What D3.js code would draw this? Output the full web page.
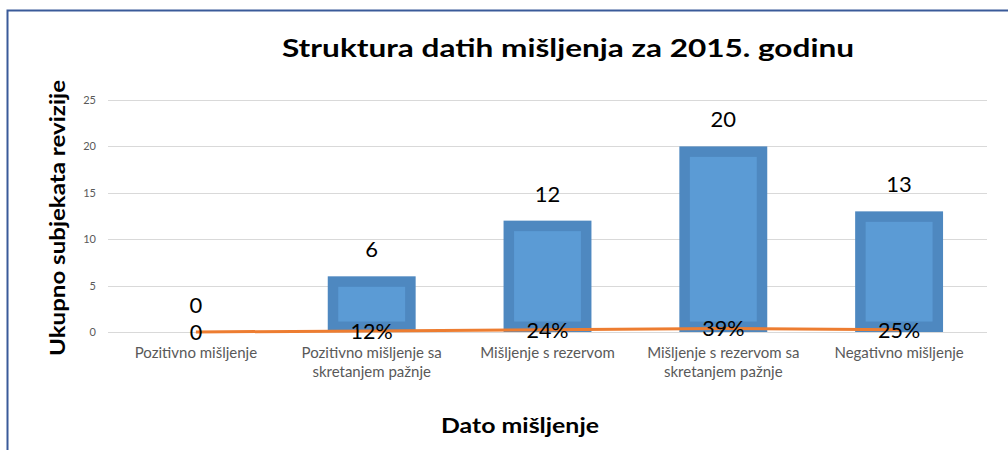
<!DOCTYPE html>
<html><head><meta charset="utf-8">
<script src="https://cdn.jsdelivr.net/npm/d3@7"></script>
<style>body{margin:0;background:#fff}svg{display:block}</style>
</head><body>
<svg id="c" width="1008" height="450"></svg>
<script>
const categories = [
  ["Pozitivno mišljenje"],
  ["Pozitivno mišljenje sa", "skretanjem pažnje"],
  ["Mišljenje s rezervom"],
  ["Mišljenje s rezervom sa", "skretanjem pažnje"],
  ["Negativno mišljenje"]
];
const counts = [0, 6, 12, 20, 13];
const shares = [0, 0.12, 0.24, 0.39, 0.25];
const shareLabels = ["0", "12%", "24%", "39%", "25%"];
const yTicks = [0, 5, 10, 15, 20, 25];
const title = "Struktura datih mišljenja  za 2015. godinu";
const yTitle = "Ukupno subjekata revizije";
const xTitle = "Dato mišljenje";

const FONT = "Lato, 'Open Sans', sans-serif";
const svg = d3.select("#c");
const keys = categories.map((c, i) => i);

// frame
svg.append("path").attr("d", "M7.5,450 V10.5 H1008")
  .attr("fill", "none").attr("stroke", "#3a5a99").attr("stroke-width", 2);

const x = d3.scaleBand().domain(keys).range([108, 987]).paddingInner(0.5).paddingOuter(0.25);
const y = d3.scaleLinear().domain([0, 25]).range([332, 100]);

// gridlines
svg.append("g").selectAll("line").data(yTicks).join("line")
  .attr("x1", 108).attr("x2", 987)
  .attr("y1", d => Math.round(y(d)) + 0.5).attr("y2", d => Math.round(y(d)) + 0.5)
  .attr("stroke", "#d9d9d9").attr("stroke-width", 1);

// y axis labels
const yAxis = d3.axisLeft(y).tickValues(yTicks).tickSize(0).tickPadding(0);
const ga = svg.append("g").attr("transform", "translate(96,0)").call(yAxis);
ga.select(".domain").remove();
ga.selectAll("text").attr("font-family", FONT).attr("font-size", 11).attr("fill", "#595959");

// bars
const bars = svg.append("g");
bars.selectAll("rect.o").data(counts).join("rect").attr("class", "o")
  .attr("x", (d, i) => x(i)).attr("width", x.bandwidth())
  .attr("y", d => y(d)).attr("height", d => y(0) - y(d))
  .attr("fill", "#4e88c0");
const inset = 10.5;
bars.selectAll("rect.i").data(counts).join("rect").attr("class", "i")
  .attr("x", (d, i) => x(i) + inset).attr("width", x.bandwidth() - 2 * inset)
  .attr("y", d => y(d) + inset).attr("height", d => Math.max(0, y(0) - y(d) - 2 * inset))
  .attr("fill", "#5b9bd5");

// bar value labels
svg.append("g").selectAll("text").data(counts).join("text")
  .attr("x", (d, i) => x(i) + x.bandwidth() / 2)
  .attr("y", d => y(d) - 19)
  .attr("text-anchor", "middle").attr("font-family", FONT).attr("font-size", 22)
  .attr("fill", "#000").text(d => d);

// line
const line = d3.line().x((d, i) => x(i) + x.bandwidth() / 2).y(d => y(d));
svg.append("path").datum(shares).attr("d", line)
  .attr("fill", "none").attr("stroke", "#ed7d31").attr("stroke-width", 3);

svg.append("g").selectAll("text").data(shares).join("text")
  .attr("x", (d, i) => x(i) + x.bandwidth() / 2)
  .attr("y", d => y(d) + 8)
  .attr("text-anchor", "middle").attr("font-family", FONT).attr("font-size", 21.5)
  .attr("fill", "#000").text((d, i) => shareLabels[i]);

// x labels
const xl = svg.append("g").selectAll("text").data(categories).join("text")
  .attr("x", (d, i) => x(i) + x.bandwidth() / 2)
  .attr("y", 358)
  .attr("text-anchor", "middle").attr("font-family", FONT).attr("font-size", 15)
  .attr("fill", "#595959");
xl.selectAll("tspan").data(d => d).join("tspan")
  .attr("x", function () { return this.parentNode.getAttribute("x"); })
  .attr("dy", (d, j) => j === 0 ? 0 : 19).text(d => d);

// titles
svg.append("text").attr("x", 568).attr("y", 57).attr("text-anchor", "middle")
  .attr("font-family", FONT).attr("font-weight", "bold").attr("font-size", 25)
  .attr("textLength", 572).attr("lengthAdjust", "spacingAndGlyphs")
  .attr("fill", "#000").text(title);
svg.append("text").attr("transform", "translate(65,218) rotate(-90)").attr("text-anchor", "middle")
  .attr("font-family", FONT).attr("font-weight", "bold").attr("font-size", 21)
  .attr("textLength", 276).attr("lengthAdjust", "spacingAndGlyphs")
  .attr("fill", "#000").text(yTitle);
svg.append("text").attr("x", 520).attr("y", 433).attr("text-anchor", "middle")
  .attr("font-family", FONT).attr("font-weight", "bold").attr("font-size", 21)
  .attr("textLength", 158).attr("lengthAdjust", "spacingAndGlyphs")
  .attr("fill", "#000").text(xTitle);
</script>
</body></html>
